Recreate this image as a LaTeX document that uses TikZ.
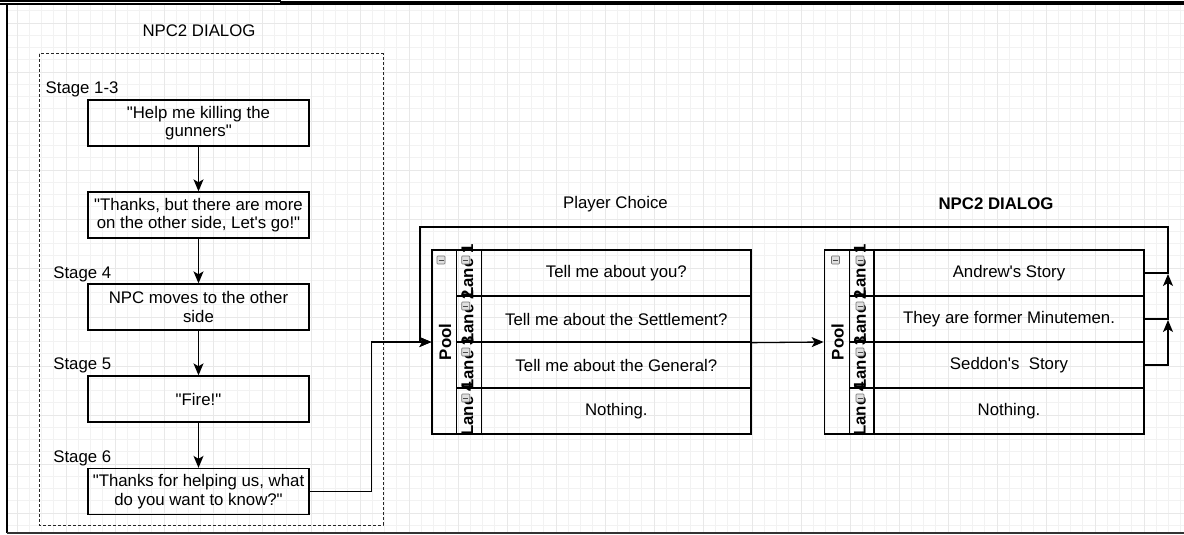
\documentclass[tikz,border=0pt]{standalone}
\usepackage{fontspec}
\setmainfont{Liberation Sans}[Ligatures=TeXOff]
\usetikzlibrary{arrows.meta}

\begin{document}
\begin{tikzpicture}[x=1pt, y=-1pt, >={Stealth[length=12pt, width=10pt, inset=3pt]},
    font=\fontsize{16.8}{18.5}\selectfont, line width=1.3pt,
    gridminor/.style={line width=0.6pt, black!5},
    gridmajor/.style={line width=0.8pt, black!9},
    box/.style={draw, minimum width=221pt, minimum height=46pt, inner sep=0pt, align=center},
    stagelbl/.style={anchor=west, inner sep=0pt},
    cell/.style={draw, minimum height=46pt, inner sep=0pt},
    lanelbl/.style={rotate=90, inner sep=0pt, font=\fontsize{16.8}{18}\selectfont\bfseries},
    minusicon/.style={draw=black!55, fill=black!12, rounded corners=0.8pt, line width=0.6pt,
      minimum width=8pt, minimum height=8pt, inner sep=0pt,
      path picture={\draw[black!70, line width=0.9pt] ([xshift=1.5pt]path picture bounding box.west)
        -- ([xshift=-1.5pt]path picture bounding box.east);}}]
    \useasboundingbox (0,0) rectangle (1184,535);

    % Griglia
    \foreach \i in {0,...,95}
        \draw[gridminor] ({17+12.25*\i},5) -- ({17+12.25*\i},533);
    \foreach \i in {-1,...,41}
        \draw[gridminor] (7,{23+12.25*\i}) -- (1184,{23+12.25*\i});
    \foreach \i in {0,...,23}
        \draw[gridmajor] ({17+49*\i},5) -- ({17+49*\i},533);
    \foreach \i in {0,...,10}
        \draw[gridmajor] (7,{23+49*\i}) -- (1184,{23+49*\i});

    % Cornice
    \draw[line width=1.5pt] (0,1) -- (280,1);
    \draw[line width=1pt] (280,0) -- (280,4);
    \draw[line width=1.2pt] (280,2) -- (1184,2);
    \draw[line width=2pt] (0,4.5) -- (1184,4.5);
    \draw[line width=1.5pt] (7,4.5) -- (7,533);
    \draw[line width=2pt, black!80] (7,533) -- (1184,533);

    % Dialogo NPC2
    \node (title1) at (199,31) {NPC2 DIALOG};
    \draw[black!85, line width=1pt, dash pattern=on 3pt off 2pt] (39,54) rectangle (383,525);

    \node[stagelbl] (s13) at (45,89) {Stage 1-3};
    \node[stagelbl] (s4) at (52.7,274) {Stage 4};
    \node[stagelbl] (s5) at (52.7,365) {Stage 5};
    \node[stagelbl] (s6) at (52.7,458) {Stage 6};

    \node[box] (b1) at (198.5,123) {"Help me killing the\\gunners"};
    \node[box] (b2) at (198.5,215) {"Thanks, but there are more\\on the other side, Let's go!"};
    \node[box] (b3) at (198.5,307) {NPC moves to the other\\side};
    \node[box] (b4) at (198.5,399) {"Fire!"};
    \node[box] (b5) at (198.5,491.5) {"Thanks for helping us, what\\do you want to know?"};

    \draw[->] (b1) -- (b2);
    \draw[->] (b2) -- (b3);
    \draw[->] (b3) -- (b4);
    \draw[->] (b4) -- (b5);

    % Scelta del giocatore
    \node (title2) at (615.5,204) {Player Choice};
    \node[cell, minimum width=24.7pt, minimum height=184pt] (pool1) at (444.35,342) {};
    \node[lanelbl] (plbl1) at (445,342) {Pool};
    \foreach \t [count=\i] in {Tell me about you?, Tell me about the Settlement?,
                                Tell me about the General?, Nothing.} {
        \node[cell, minimum width=25pt] (la\i) at (469.2,{273+46*(\i-1)}) {};
        \node[cell, minimum width=269.3pt] (q\i) at (616.35,{273+46*(\i-1)}) {\t};
    }
    \foreach \i in {1,...,4}
        \node[lanelbl] (lla\i) at (467.5,{271+46*(\i-1)}) {Lane \i};

    % Dialogo NPC2 (risposte)
    \node[font=\fontsize{16.8}{18.5}\selectfont\bfseries] (title3) at (996,204) {NPC2 DIALOG};
    \node[cell, minimum width=25pt, minimum height=184pt] (pool2) at (836.8,342) {};
    \node[lanelbl] (plbl2) at (837.5,342) {Pool};
    \foreach \t [count=\i] in {Andrew's Story, They are former Minutemen.,
                                Seddon's~ Story, Nothing.} {
        \node[cell, minimum width=24.7pt] (lb\i) at (861.65,{273+46*(\i-1)}) {};
        \node[cell, minimum width=270pt] (r\i) at (1009,{273+46*(\i-1)}) {\t};
    }
    \foreach \i in {1,...,4}
        \node[lanelbl] (llb\i) at (860,{271+46*(\i-1)}) {Lane \i};

    % Icone
    \node[minusicon] (ia0) at (441,260) {};
    \node[minusicon] (ib0) at (835.5,260) {};
    \foreach \i in {1,...,4} {
        \node[minusicon] (ia\i) at (465.7,{260+46*(\i-1)}) {};
        \node[minusicon] (ib\i) at (860,{260+46*(\i-1)}) {};
    }

    % Collegamenti
    \coordinate (ja) at (1168,274);
    \coordinate (jb) at (1168,320);
    \coordinate (ka) at (1168,227);
    \coordinate (kb) at (420,227);
    \draw[->] (b5.east) -- ++(62,0) |- (pool1.west);
    \draw[->] (q2.south east) -- (pool2.west);
    \draw[->] (r1.east) -| (ka) -- (kb) |- (pool1.west);
    \draw[->] (r2.east) -| (ja);
    \draw[->] (r3.east) -| (jb);

\end{tikzpicture}
\end{document}
